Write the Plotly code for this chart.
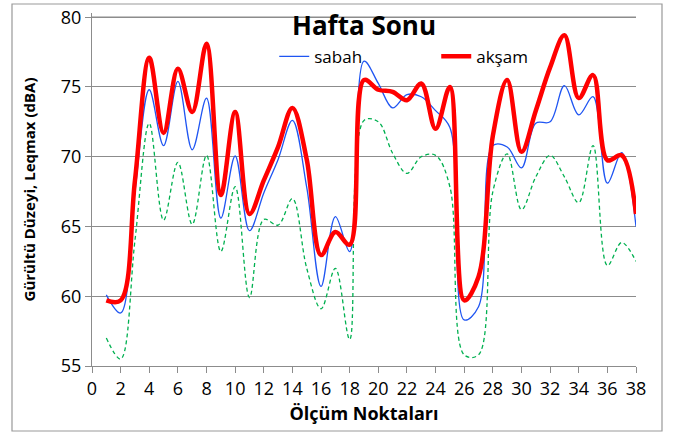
import plotly.graph_objects as go

points = list(range(1, 39))
sabah = [60.1, 58.8, 67.5, 74.8, 70.8, 75.4, 70.5, 74.2, 65.6, 70.05,
         64.7, 67.4, 69.8, 72.6, 67.8, 60.7, 65.7, 63.2, 76.85, 75.25,
         73.5, 74.45, 74.3, 73.3, 72.1, 58.3, 59.25, 70.8, 70.7, 69.2,
         72.4, 72.5, 75.1, 73.0, 74.3, 68.1, 70.3, 65.0]
aksam = [59.7, 59.7, 68.3, 77.1, 71.7, 76.3, 73.2, 78.1, 67.25, 73.2,
         65.9, 68.3, 70.7, 73.5, 69.8, 62.95, 64.6, 63.7, 75.5, 74.8,
         74.65, 74.05, 75.25, 72.0, 75.0, 59.7, 61.4, 71.5, 75.5, 70.35,
         73.3, 76.4, 78.7, 74.2, 75.85, 69.75, 70.1, 65.9]
ogle = [57.0, 55.5, 64.0, 72.4, 65.45, 69.6, 65.15, 70.1, 63.2, 67.85,
        59.9, 65.5, 65.1, 67.0, 62.0, 59.1, 62.0, 56.9, 72.6, 72.5,
        70.25, 68.8, 70.0, 70.1, 67.85, 55.8, 55.8, 67.5, 70.2, 66.2,
        68.55, 70.1, 68.55, 66.7, 70.8, 62.2, 63.85, 62.5]

x_ticks = list(range(0, 40, 2))
y_ticks = [55, 60, 65, 70, 75, 80]

FONT = "Open Sans"
GRID = "#8c8c8c"

fig = go.Figure()
fig.add_trace(go.Scatter(x=points, y=ogle, mode="lines", name="öğle",
                         showlegend=False,
                         line=dict(color="#00B050", width=1.3, dash="4px,3px",
                                   shape="spline", smoothing=1)))
fig.add_trace(go.Scatter(x=points, y=sabah, mode="lines", name="sabah",
                         line=dict(color="#1f55f2", width=1.3,
                                   shape="spline", smoothing=1)))
fig.add_trace(go.Scatter(x=points, y=aksam, mode="lines", name="akşam",
                         line=dict(color="#ff0000", width=4.5,
                                   shape="spline", smoothing=1)))

# plot area: 92..636 px horizontally, 13..366 px vertically (80 sits at ~17 px)
PL, PT, PW, PH = 92, 13, 544, 353

fig.update_layout(
    width=675, height=435,
    margin=dict(l=PL, r=675 - PL - PW, t=PT, b=435 - PT - PH, autoexpand=False),
    paper_bgcolor="white", plot_bgcolor="white",
    font=dict(family=FONT, color="black", size=18),
    title=dict(text="<b>Hafta Sonu</b>", x=0.5, xref="paper",
               y=1 - 26 / 435, yanchor="middle",
               font=dict(family=FONT, size=26, color="black")),
    legend=dict(orientation="h", x=0.335, xanchor="left", y=0.876,
                yanchor="middle", font=dict(family=FONT, size=17),
                bgcolor="rgba(0,0,0,0)", entrywidth=117, itemwidth=30),
    xaxis=dict(range=[0, 38], tickvals=x_ticks, ticks="outside", ticklen=6,
               tickcolor=GRID, showline=True, linecolor=GRID, linewidth=1.3,
               showgrid=False, zeroline=False, automargin=False,
               ticklabeloverflow="allow",
               tickfont=dict(family=FONT, size=18),
               title=dict(text="<b>Ölçüm Noktaları</b>", standoff=8,
                          font=dict(family=FONT, size=18))),
    yaxis=dict(range=[55, 80.3], tickvals=y_ticks, ticks="outside", ticklen=6,
               tickcolor=GRID, showline=True, linecolor=GRID, linewidth=1.3,
               showgrid=True, gridcolor=GRID, gridwidth=1.3, zeroline=False,
               automargin=False, ticklabeloverflow="allow",
               tickfont=dict(family=FONT, size=18),
               title=dict(text="<b>Gürültü Düzeyi, Leqmax (dBA)</b>", standoff=21,
                          font=dict(family=FONT, size=15))),
    shapes=[dict(type="rect", xref="paper", yref="paper",
                 x0=(12 - PL) / PW, x1=(662 - PL) / PW,
                 y0=(PT + PH - 431) / PH, y1=(PT + PH - 4) / PH,
                 line=dict(color="#999999", width=1.2), layer="below"),
            dict(type="line", xref="paper", yref="y", x0=0, x1=1,
                 y0=y_ticks[-1], y1=y_ticks[-1],
                 line=dict(color=GRID, width=1.3), layer="below")],
)

fig.write_html("out.html", config={"displayModeBar": False},
               post_script="document.body.style.margin='0';")
